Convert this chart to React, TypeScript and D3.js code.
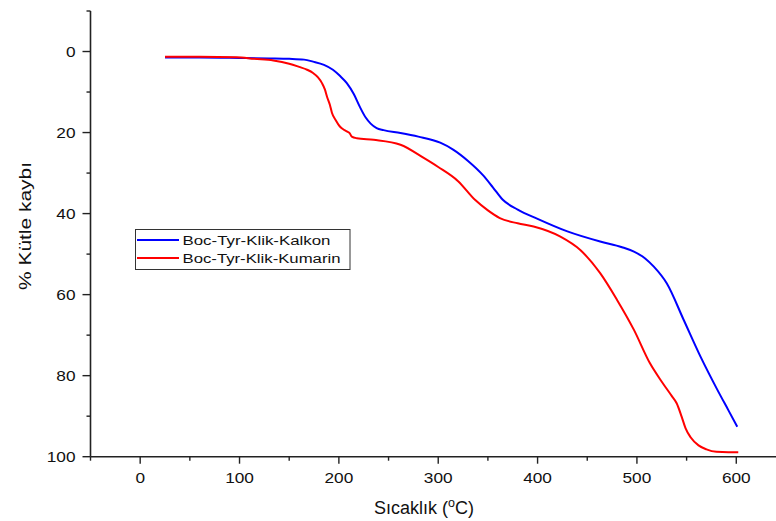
import React from 'react';
import * as d3 from 'd3';

// Boc-Tyr-Klik-Kalkon (mavi)
const kalkonT = [25, 60, 100, 130, 150, 165, 174, 185, 194, 201, 208, 215, 221, 227, 232, 238, 245, 262, 280, 302, 315, 330, 345, 355, 365, 380, 400, 430, 463, 485, 497, 508, 517, 530, 547, 564, 581, 592, 601];
const kalkonY = [1.5, 1.5, 1.6, 1.7, 1.8, 2.0, 2.5, 3.3, 4.5, 6.0, 7.8, 10.5, 13.6, 16.3, 17.8, 18.9, 19.4, 20.1, 21.0, 22.5, 24.2, 27.0, 30.5, 33.5, 36.6, 39.0, 41.3, 44.4, 46.9, 48.3, 49.4, 51.0, 53.1, 57.2, 66.2, 75.3, 83.5, 88.5, 92.6];

// Boc-Tyr-Klik-Kumarin (kırmızı)
const kumarinT = [25, 60, 97, 115, 134, 150, 160, 168, 174, 179, 183, 186, 188, 191, 193, 197, 201, 205, 208, 211, 213, 218, 235, 262, 285, 300, 320, 337, 350, 362, 380, 396, 423, 443, 463, 480, 497, 513, 525, 535, 540, 545, 549, 554, 562, 570, 580, 592, 602];
const kumarinY = [1.3, 1.3, 1.4, 1.8, 2.2, 3.0, 3.8, 4.5, 5.3, 6.4, 7.8, 9.4, 11.1, 13.2, 15.1, 17.0, 18.5, 19.3, 19.7, 20.2, 21.0, 21.4, 21.8, 23.0, 26.2, 28.5, 32.0, 36.6, 39.2, 41.1, 42.4, 43.2, 45.7, 49.0, 54.7, 61.3, 68.7, 76.9, 81.5, 85.0, 86.8, 90.1, 93.0, 95.2, 97.2, 98.2, 98.8, 98.9, 98.9];

const xTicks = [0, 100, 200, 300, 400, 500, 600];
const xMinor = [-50, 50, 150, 250, 350, 450, 550, 650];
const yTicks = [0, 20, 40, 60, 80, 100];
const yMinor = [-10, 10, 30, 50, 70, 90];

const series = [
  { name: 'Boc-Tyr-Klik-Kalkon', color: '#0000ff', t: kalkonT, y: kalkonY, len: 148 },
  { name: 'Boc-Tyr-Klik-Kumarin', color: '#ff0000', t: kumarinT, y: kumarinY, len: 158 },
];

const W = 776;
const H = 521;
const left = 90.5;
const top = 11;
const bottom = 456.7;

export default function App() {
  const x = d3.scaleLinear().domain([-50, 650]).range([left, left + 700 * 0.9935]);
  const y = d3.scaleLinear().domain([-10, 100]).range([top, bottom]);

  const line = d3.line<[number, number]>()
    .x(d => x(d[0]))
    .y(d => y(d[1]))
    .curve(d3.curveMonotoneX);

  const axisColor = '#222';
  const font = 'Arial, "Liberation Sans", sans-serif';
  const digitW = 9.6;

  return (
    <svg width={W} height={H} style={{ position: 'absolute', left: 0, top: 0 }} fontFamily={font}>
      <rect width={W} height={H} fill="#fff" />
      {series.map(s => (
        <path
          key={s.name}
          d={line(s.t.map((t, i) => [t, s.y[i]] as [number, number])) || ''}
          fill="none"
          stroke={s.color}
          strokeWidth={2}
        />
      ))}

      {/* y ekseni */}
      <line x1={left} x2={left} y1={top} y2={bottom} stroke={axisColor} strokeWidth={1.6} />
      {yTicks.map(v => (
        <g key={'y' + v}>
          <line x1={left - 8} x2={left} y1={y(v)} y2={y(v)} stroke={axisColor} strokeWidth={1.4} />
          <text x={75.5} y={y(v)} dy="0.36em" textAnchor="end" fontSize={14.5} fill="#111"
            textLength={String(v).length * digitW} lengthAdjust="spacingAndGlyphs">{v}</text>
        </g>
      ))}
      {yMinor.map(v => (
        <line key={'ym' + v} x1={left - 4} x2={left} y1={y(v)} y2={y(v)} stroke={axisColor} strokeWidth={1.4} />
      ))}

      {/* x ekseni */}
      <line x1={left} x2={W} y1={bottom} y2={bottom} stroke={axisColor} strokeWidth={1.6} />
      {xTicks.map(v => (
        <g key={'x' + v}>
          <line x1={x(v)} x2={x(v)} y1={bottom} y2={bottom + 7} stroke={axisColor} strokeWidth={1.4} />
          <text x={x(v)} y={bottom + 26} textAnchor="middle" fontSize={14.5} fill="#111"
            textLength={String(v).length * digitW} lengthAdjust="spacingAndGlyphs">{v}</text>
        </g>
      ))}
      {xMinor.map(v => (
        <line key={'xm' + v} x1={x(v)} x2={x(v)} y1={bottom} y2={bottom + 4} stroke={axisColor} strokeWidth={1.4} />
      ))}

      <text x={424} y={514} textAnchor="middle" fontSize={18} fill="#111">
        Sıcaklık (<tspan dy={-7} fontSize={12.5}>o</tspan><tspan dy={7}>C)</tspan>
      </text>
      <text transform={`translate(31,226) rotate(-90)`} textAnchor="middle" fontSize={17}
        fill="#111" textLength={128} lengthAdjust="spacingAndGlyphs">
        % Kütle kaybı
      </text>

      {/* lejant */}
      <rect x={135.5} y={229.5} width={214.5} height={40} fill="#fff" stroke="#333" strokeWidth={1} />
      {series.map((s, i) => (
        <g key={'lg' + i}>
          <line x1={137} x2={179} y1={240 + i * 18} y2={240 + i * 18} stroke={s.color} strokeWidth={2} />
          <text x={182.5} y={240 + i * 18} dy="0.36em" fontSize={12.5} fill="#111"
            textLength={s.len} lengthAdjust="spacingAndGlyphs">{s.name}</text>
        </g>
      ))}
    </svg>
  );
}
